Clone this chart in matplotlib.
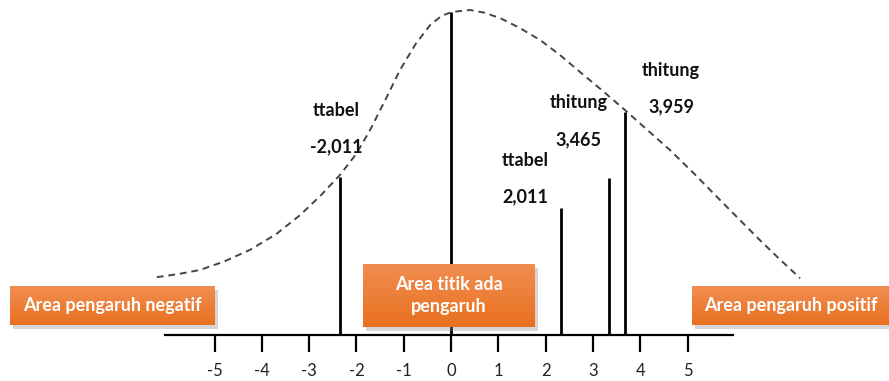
import numpy as np
import matplotlib
matplotlib.use("Agg")
import matplotlib.pyplot as plt
import matplotlib.transforms as mtransforms
from matplotlib.patches import Rectangle

# dashed bell-shaped curve
curve_x = [-6.22, -5.75, -5.31, -4.8, -4.25, -3.7, -3.19, -2.75, -2.35, -2.0, -1.71,
           -1.4, -1.08, -0.75, -0.44, -0.2, 0.02, 0.4, 0.7, 1.04, 1.45, 1.88, 2.3,
           2.73, 3.2, 3.68, 4.15, 4.63, 5.15, 5.69, 6.1, 6.53, 6.95, 7.38]
curve_y = [0.178, 0.188, 0.2, 0.226, 0.262, 0.31, 0.369, 0.43, 0.492, 0.558, 0.631,
           0.72, 0.815, 0.895, 0.954, 0.982, 0.994, 1.0, 0.992, 0.975, 0.945, 0.908, 0.862,
           0.809, 0.752, 0.692, 0.631, 0.569, 0.495, 0.415, 0.355, 0.292, 0.233, 0.175]

# vertical markers
line_x = [-2.35, 0.0, 2.33, 3.34, 3.68]
line_top = [0.486, 0.994, 0.391, 0.483, 0.686]

# labels above markers
label_names = ["ttabel", "ttabel", "thitung", "thitung"]
label_values = ["-2,011", "2,011", "3,465", "3,959"]
label_x = [-2.43, 1.58, 2.7, 4.65]
label_y = [0.692, 0.538, 0.714, 0.815]

ticks = [-5, -4, -3, -2, -1, 0, 1, 2, 3, 4, 5]

W, H = 889, 381
fig = plt.figure(figsize=(W / 100, H / 100), dpi=100)
ax = fig.add_axes([0, 0, 1, 1])
ax.set_xlim(-9.535, 9.26)
ax.set_ylim(-0.1415, 1.0308)

for s in ["top", "right", "left"]:
    ax.spines[s].set_visible(False)
ax.spines["bottom"].set_position(("data", 0))
ax.spines["bottom"].set_bounds(-6.04, 5.96)
ax.spines["bottom"].set_linewidth(1.6)
ax.set_yticks([])
ax.set_xticks(ticks)
ax.set_xticklabels([str(t) for t in ticks], fontsize=12, family="Lato", color="#222222")
ax.tick_params(axis="x", direction="out", length=12, width=1.6, pad=8)

ax.plot(curve_x, curve_y, color="#444444", lw=1.4, ls=(0, (3.5, 2.5)))
ax.vlines(line_x, 0, line_top, color="black", lw=2)

for name, val, x, y in zip(label_names, label_values, label_x, label_y):
    ax.text(x, y, name, ha="center", va="center", fontsize=13,
            fontweight="bold", family="Lato", color="#111111")
    ax.text(x, y - 0.114, val, ha="center", va="center", fontsize=13,
            fontweight="bold", family="Lato", color="#111111")

# orange boxes, placed in image pixels
pix = mtransforms.Affine2D().scale(1 / W, -1 / H).translate(0, 1) + fig.transFigure
grad = np.linspace(0, 1, 50).reshape(-1, 1)
cmap = matplotlib.colors.LinearSegmentedColormap.from_list("org", ["#f28d52", "#e8711f"])


def box(x0, y0, x1, y1, text):
    sh = Rectangle((x0 + 3, y0 + 4), x1 - x0, y1 - y0, transform=pix,
                   color="#888888", alpha=0.35, lw=0, zorder=3)
    fig.patches.append(sh)
    axb = fig.add_axes([x0 / W, 1 - y1 / H, (x1 - x0) / W, (y1 - y0) / H], zorder=5)
    axb.imshow(grad, cmap=cmap, aspect="auto", extent=[0, 1, 0, 1])
    axb.set_axis_off()
    axb.text(0.5, 0.5, text, ha="center", va="center", color="white",
             fontsize=13, fontweight="bold", family="Lato", linespacing=1.4)


box(10, 286, 215, 325, "Area pengaruh negatif")
box(363, 264, 535, 327, "Area titik ada\npengaruh")
box(692, 286, 889, 325, "Area pengaruh positif")

fig.savefig("out.png", dpi=100)
